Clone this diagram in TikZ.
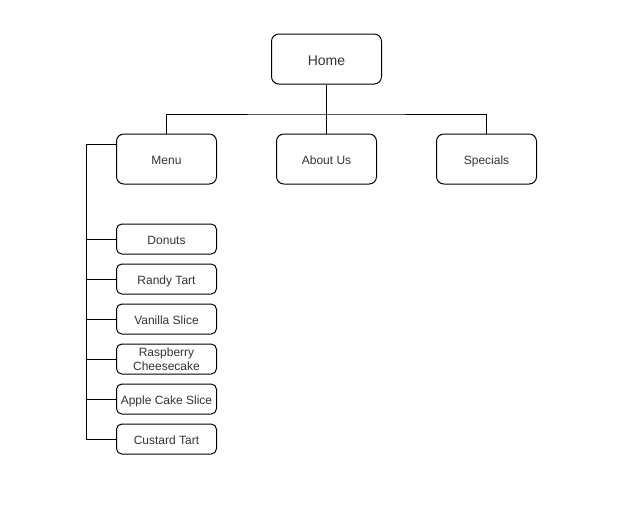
\documentclass[tikz,border=0pt]{standalone}
\usepackage{fontspec}
\setmainfont{Liberation Sans}
\begin{document}
\begin{tikzpicture}[x=0.75pt,y=-0.75pt,
  every node/.style={draw, line width=0.75pt, rounded corners=5.5pt, align=center,
    inner sep=0pt, text=black!80, text height=9pt, text depth=1pt,
    font=\fontsize{9}{10.5}\selectfont},
  bigbox/.style={minimum width=75pt, minimum height=37.5pt},
  itembox/.style={minimum width=75pt, minimum height=22.5pt, rounded corners=4pt},
  link/.style={line width=0.75pt}]
  \useasboundingbox[fill=white] (0,0) rectangle (620,515);

  % top level
  \node[minimum width=82.5pt, minimum height=37.5pt, text height=10pt,
        font=\fontsize{10.5}{12}\selectfont] (home) at (326.5,59) {Home};
  \node[bigbox] (menu) at (166.5,159) {Menu};
  \node[bigbox] (about) at (326.5,159) {About Us};
  \node[bigbox] (specials) at (486.5,159) {Specials};

  % menu items
  \node[itembox] (donuts) at (166.5,239) {Donuts};
  \node[itembox] (randy) at (166.5,279) {Randy Tart};
  \node[itembox] (vanilla) at (166.5,319) {Vanilla Slice};
  \node[itembox, text height=, text depth=] (rasp) at (166.5,359) {Raspberry\\Cheesecake};
  \node[itembox] (apple) at (166.5,399) {Apple Cake Slice};
  \node[itembox] (custard) at (166.5,439) {Custard Tart};

  % tree connectors
  \coordinate (bus) at (326.5,114);
  \draw[link] (home.south) -- (about.north);
  \draw[link] (menu.north) |- (bus) -| (specials.north);

  \coordinate (spine) at (86.5,144);
  \draw[link] (spine -| menu.west) -- (spine);
  \foreach \n in {donuts,randy,vanilla,rasp,apple,custard}
    \draw[link] (spine) |- (\n.west);
\end{tikzpicture}
\end{document}
